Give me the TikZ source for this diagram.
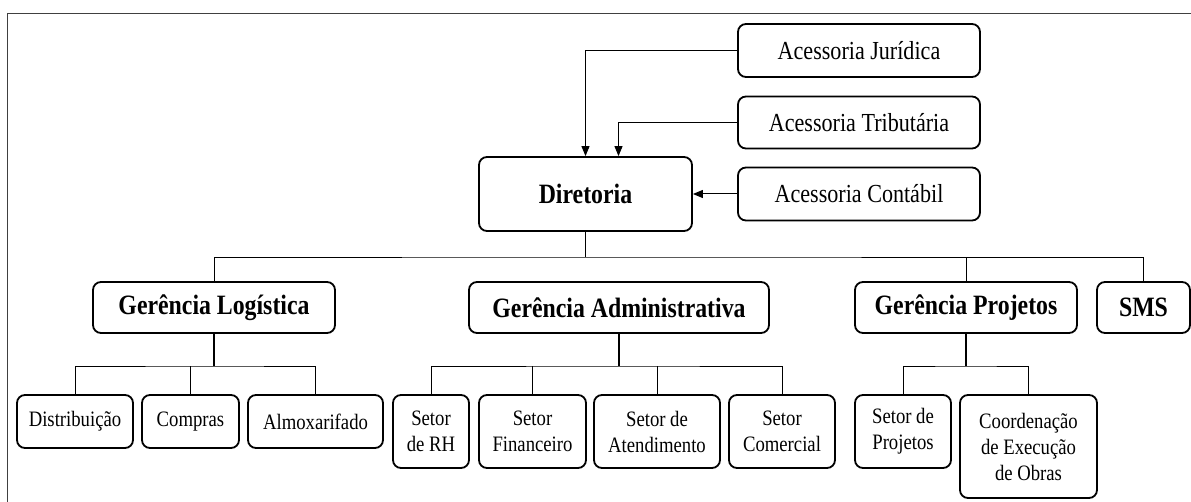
\documentclass[tikz,border=0pt]{standalone}
\usepackage{fontspec}
\setmainfont{Liberation Serif}[FakeStretch=0.85]
\usepackage{tikz}
\usetikzlibrary{arrows.meta, calc}

\tikzset{
  caixa/.style={draw, line width=1.8pt, rounded corners=8pt, inner sep=0pt, align=center,
    font=\fontsize{22}{26}\selectfont},
  acessoria/.style={caixa, minimum width=242, font=\fontsize{26}{30}\selectfont},
  chefe/.style={caixa, font=\fontsize{28}{30}\selectfont\bfseries},
  seta/.style={line width=1pt, -{Triangle[length=10pt, width=8pt]}},
  tronco/.style={line width=1.6pt},
  ramo/.style={line width=0.9pt},
}

\begin{document}
\begin{tikzpicture}[x=1pt, y=-1pt]
            \useasboundingbox (0,0) rectangle (1191,502);
            % moldura
            \draw[line width=1pt, black!75] (7,520) -- (7,14) -- (1200,14);

            % Diretoria e acessorias
            \node[chefe, minimum width=213, minimum height=74] (dir) at (585.5,194) {Diretoria};
            \node[acessoria, minimum height=53] (jur) at (859,50.5) {Acessoria Jurídica};
            \node[acessoria, minimum height=52] (trib) at (859,122.5) {Acessoria Tributária};
            \node[acessoria, minimum height=53] (cont) at (859,194) {Acessoria Contábil};

            \draw[seta] (jur.west) -| (dir.north);
            \draw[seta] (trib.west) -| ([xshift=33pt]dir.north);
            \draw[seta] (cont.west) -- (dir.east);

            % Gerencias
            \node[chefe, minimum width=242, minimum height=51] (gl) at (214,307.5) {Gerência Logística};
            \node[chefe, minimum width=300, minimum height=51] (ga) at (619,307.5) {Gerência Administrativa};
            \node[chefe, minimum width=222, minimum height=51] (gp) at (966,307.5) {Gerência Projetos};
            \node[chefe, minimum width=93, minimum height=51] (sms) at (1143.5,307.5) {SMS};

            \coordinate (bus) at (585.5,257);
            \draw[tronco] (dir.south) -- (bus);
            \draw[ramo] (gl.north) |- (bus) -| (sms.north);
            \draw[ramo] (gp.north) -- (gp.north |- bus);

            % Logistica
            \node[caixa, minimum width=116, minimum height=53] (dist) at (75,421.5) {Distribuição};
            \node[caixa, minimum width=97, minimum height=53] (comp) at (190.5,421.5) {Compras};
            \node[caixa, minimum width=135, minimum height=53] (almox) at (315.5,421.5) {Almoxarifado};

            \coordinate (glbus) at (214,366);
            \draw[tronco] (gl.south) -- (glbus);
            \draw[ramo] (dist.north) |- (glbus) -| (almox.north);
            \draw[ramo] (comp.north) -- (comp.north |- glbus);

            % Administrativa
            \node[caixa, minimum width=76, minimum height=73] (rh) at (431,431.5) {Setor\\de RH};
            \node[caixa, minimum width=107, minimum height=73] (fin) at (532.5,431.5) {Setor\\Financeiro};
            \node[caixa, minimum width=126, minimum height=73] (aten) at (657,431.5) {Setor de\\Atendimento};
            \node[caixa, minimum width=106, minimum height=73] (com) at (782,431.5) {Setor\\Comercial};

            \coordinate (gabus) at (619,366);
            \draw[tronco] (ga.south) -- (gabus);
            \draw[ramo] (rh.north) |- (gabus) -| (com.north);
            \draw[ramo] (fin.north) -- (fin.north |- gabus);
            \draw[ramo] (aten.north) -- (aten.north |- gabus);

            % Projetos
            \node[caixa, minimum width=96, minimum height=73] (sproj) at (903,431.5) {Setor de\\Projetos};
            \node[caixa, minimum width=137, minimum height=103] (coord) at (1028.5,446.5) {Coordenação\\de Execução\\de Obras};

            \coordinate (gpbus) at (966,366);
            \draw[tronco] (gp.south) -- (gpbus);
            \draw[ramo] (sproj.north) |- (gpbus) -| (coord.north);
\end{tikzpicture}
\end{document}
